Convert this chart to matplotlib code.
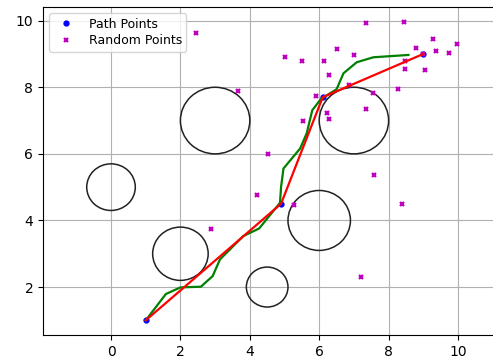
import numpy as np
import matplotlib
matplotlib.use('Agg')
import matplotlib.pyplot as plt
from matplotlib.patches import Circle

# obstacles: centre x, centre y, radius
obs_x = [0, 3, 2, 4.5, 6, 7]
obs_y = [5, 7, 3, 2, 4, 7]
obs_r = [0.7, 1.0, 0.8, 0.6, 0.9, 1.0]

# sampled random points
rand_x = [2.45, 3.67, 2.88, 4.22, 4.51, 5.27, 5.01, 5.51, 5.54, 5.92, 6.13, 6.50,
          6.29, 6.23, 6.29, 6.86, 7.01, 7.34, 7.34, 7.55, 7.57, 7.20, 8.27, 8.39,
          8.45, 8.80, 9.28, 9.97, 9.36, 9.75, 9.00, 8.48, 8.48, 9.04]
rand_y = [9.63, 7.90, 3.75, 4.77, 6.00, 4.45, 8.91, 8.80, 6.98, 7.74, 8.80, 9.15,
          8.38, 7.23, 7.05, 8.06, 8.97, 9.94, 7.34, 7.82, 5.35, 2.29, 7.94, 4.50,
          9.97, 9.18, 9.44, 9.29, 9.09, 9.02, 8.99, 8.80, 8.56, 8.51]

# path through the tree
path_x = [1, 4.9, 6.1, 9]
path_y = [1, 4.5, 7.7, 9]

# raw tree branch
tree_x = [1, 1.58, 2.0, 2.59, 2.93, 3.14, 3.81, 4.27, 4.87, 4.9, 4.97, 5.45,
          5.64, 5.80, 6.05, 6.5, 6.7, 7.08, 7.56, 8.57]
tree_y = [1, 1.79, 1.99, 2.01, 2.33, 2.83, 3.53, 3.76, 4.53, 5.0, 5.56, 6.16,
          6.62, 7.31, 7.65, 7.94, 8.42, 8.75, 8.90, 8.97]

fig = plt.figure(figsize=(4.93, 3.58), dpi=100)
ax = fig.add_axes([43/493, 23/358, 457/493, 328/358])

for cx, cy, r in zip(obs_x, obs_y, obs_r):
    ax.add_patch(Circle((cx, cy), r, fill=False, ec='#222222', lw=1.1, zorder=2))

ax.plot(path_x, path_y, 'bo', ms=3.5, label='Path Points', zorder=3)
ax.plot(rand_x, rand_y, 'mx', ms=3.2, mew=1.6, label='Random Points', zorder=3)
ax.plot(tree_x, tree_y, 'g-', lw=1.6, zorder=4)
ax.plot(path_x, path_y, 'r-', lw=1.6, zorder=5)

ax.set_xlim(-1.96, 11.21)
ax.set_ylim(0.56, 10.41)
ax.set_xticks([0, 2, 4, 6, 8, 10])
ax.set_yticks([2, 4, 6, 8, 10])
ax.grid(True)
ax.set_axisbelow(True)
ax.legend(loc='upper left', fontsize=9, borderpad=0.35, labelspacing=0.3)

fig.savefig('out.png', dpi=100)
